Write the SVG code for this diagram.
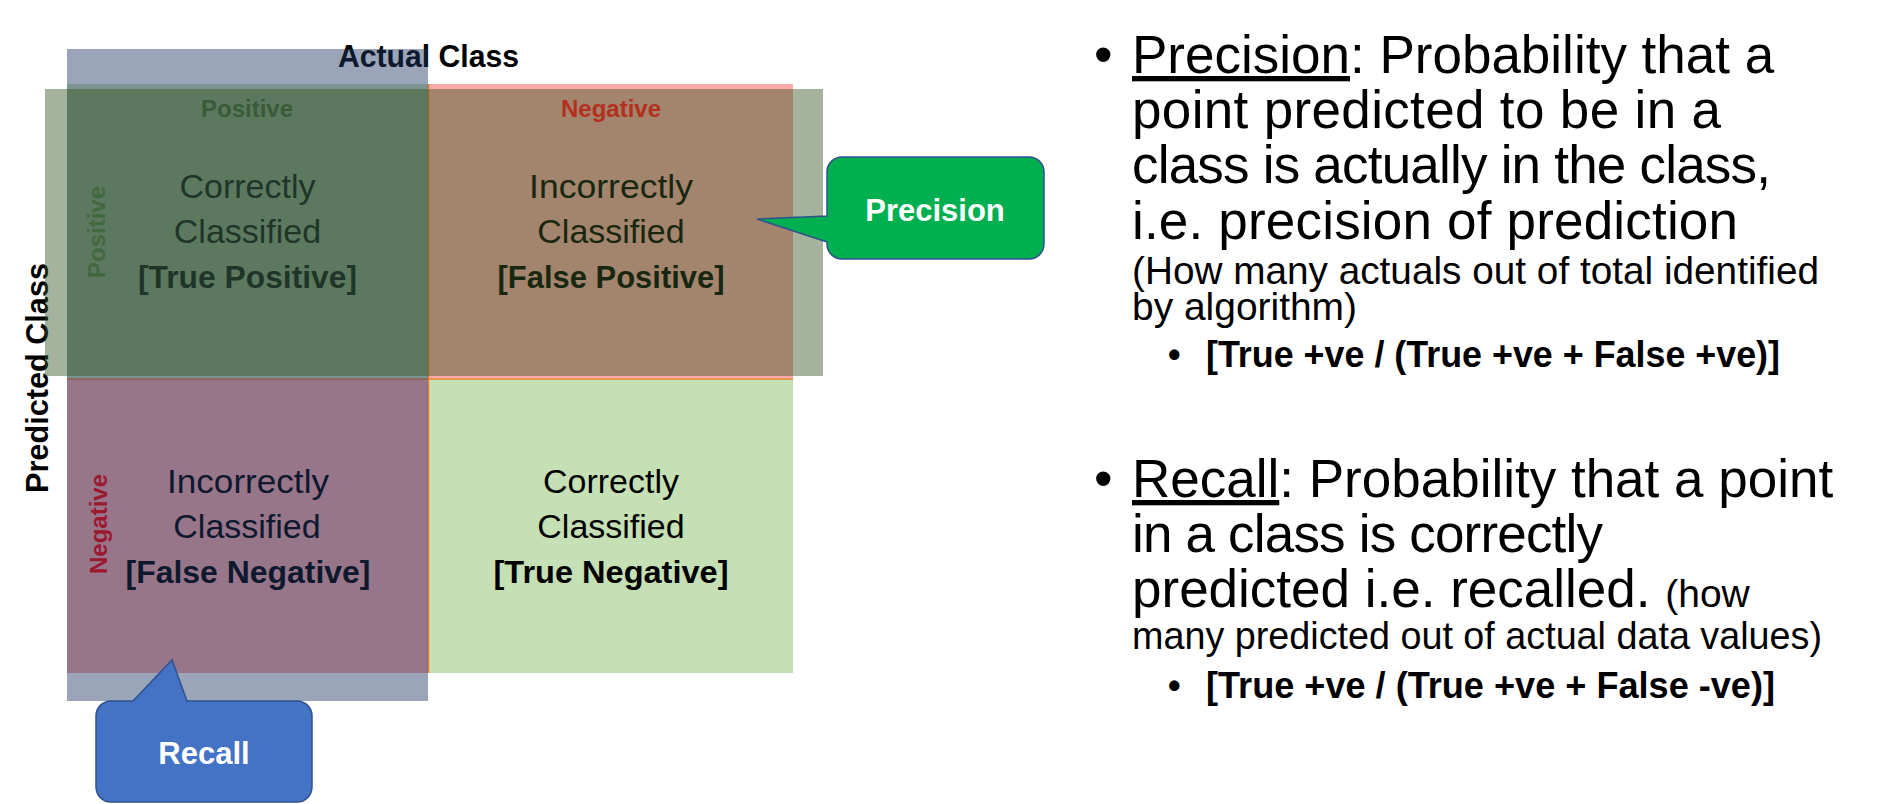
<svg xmlns="http://www.w3.org/2000/svg" width="1886" height="804" viewBox="0 0 1886 804">
<style>
  text { font-family: "Liberation Sans", Arial, sans-serif; }
  .cell { font-size: 34px; text-anchor: middle; fill: #000; }
  .cellb { font-size: 32px; font-weight: bold; text-anchor: middle; fill: #000; }
  .hdr { font-size: 24px; font-weight: bold; text-anchor: middle; }
  .axis { font-weight: bold; fill: #000; }
  .body { font-size: 53px; fill: #000; }
  .small { font-size: 39px; fill: #000; }
  .formula { font-size: 36px; font-weight: bold; fill: #000; }
  .callout-text { font-size: 31px; font-weight: bold; fill: #fff; text-anchor: middle; }
  .callout { stroke: #2F528F; stroke-width: 1.5; }
  .grid-line { stroke: #ED7D31; stroke-width: 1.5; fill: none; }
</style>
<rect width="1886" height="804" fill="#fff"/>

<g id="matrix">
  <g id="cell-tp"><rect x="67" y="84" width="361" height="294.5" fill="#C5E0B4"/></g>
  <g id="cell-fp"><rect x="428" y="84" width="365" height="294.5" fill="#FCA9AA"/></g>
  <g id="cell-fn"><rect x="67" y="378.5" width="361" height="294.5" fill="#FCA9AA"/></g>
  <g id="cell-tn"><rect x="428" y="378.5" width="365" height="294.5" fill="#C5E0B4"/></g>
  <line class="grid-line" x1="428.5" y1="84" x2="428.5" y2="673"/>
  <line class="grid-line" x1="67" y1="379" x2="793" y2="379"/>

  <g id="tp-text">
    <text class="cell" x="247.5" y="198">Correctly</text>
    <text class="cell" x="247.5" y="243">Classified</text>
    <text class="cellb" x="247.5" y="288" textLength="219" lengthAdjust="spacingAndGlyphs">[True Positive]</text>
  </g>
  <g id="fp-text">
    <text class="cell" x="611" y="198" textLength="164" lengthAdjust="spacingAndGlyphs">Incorrectly</text>
    <text class="cell" x="611" y="243">Classified</text>
    <text class="cellb" x="611" y="288" textLength="227" lengthAdjust="spacingAndGlyphs">[False Positive]</text>
  </g>
  <g id="fn-text">
    <text class="cell" x="248" y="493" textLength="162" lengthAdjust="spacingAndGlyphs">Incorrectly</text>
    <text class="cell" x="247" y="538">Classified</text>
    <text class="cellb" x="248" y="583" textLength="245" lengthAdjust="spacingAndGlyphs">[False Negative]</text>
  </g>
  <g id="tn-text">
    <text class="cell" x="611" y="493">Correctly</text>
    <text class="cell" x="611" y="538">Classified</text>
    <text class="cellb" x="611" y="583" textLength="235" lengthAdjust="spacingAndGlyphs">[True Negative]</text>
  </g>

  <g id="headers">
    <text class="hdr" x="247" y="117" fill="#548235">Positive</text>
    <text class="hdr" transform="translate(105,232) rotate(-90)" fill="#70AD47">Positive</text>
    <text class="hdr" transform="translate(107,524) rotate(-90)" fill="#FF0000" font-size="25">Negative</text>
  </g>

  <g id="actual-class">
    <text class="axis" x="338" y="67" font-size="32" textLength="181" lengthAdjust="spacingAndGlyphs">Actual Class</text>
  </g>
  <g id="predicted-class">
    <text class="axis" transform="translate(48,378) rotate(-90)" font-size="32" text-anchor="middle" textLength="230" lengthAdjust="spacingAndGlyphs">Predicted Class</text>
  </g>

  <g id="actual-positive-overlay">
    <rect x="67" y="49" width="361" height="652" fill="#1F3864" fill-opacity="0.45"/>
  </g>
  <g id="predicted-positive-overlay">
    <rect x="45" y="89" width="778" height="287" fill="#385723" fill-opacity="0.45"/>
  </g>
  <g id="negative-header">
    <text class="hdr" x="611" y="117" fill="#B52F1F" font-size="25">Negative</text>
  </g>
</g>

<g id="precision-callout">
  <path class="callout" fill="#00B050" d="M842,157 H1029 A15,15 0 0 1 1044,172 V244 A15,15 0 0 1 1029,259 H842 A15,15 0 0 1 827,244 V242 L757,219 L827,216 V172 A15,15 0 0 1 842,157 Z"/>
  <text class="callout-text" x="935" y="221">Precision</text>
</g>

<g id="recall-callout">
  <path class="callout" fill="#4472C4" d="M111,701 H133 L172,660 L187,701 H297 A15,15 0 0 1 312,716 V787 A15,15 0 0 1 297,802 H111 A15,15 0 0 1 96,787 V716 A15,15 0 0 1 111,701 Z"/>
  <text class="callout-text" x="204" y="764">Recall</text>
</g>

<g id="precision-text">
  <text class="body" x="1094" y="73">•</text>
  <text class="body" x="1132" y="73"><tspan text-decoration="underline">Precision</tspan>: Probability that a</text>
  <text class="body" x="1132" y="128" textLength="589" lengthAdjust="spacing">point predicted to be in a</text>
  <text class="body" x="1132" y="183" textLength="639" lengthAdjust="spacing">class is actually in the class,</text>
  <text class="body" x="1132" y="239" textLength="606" lengthAdjust="spacing">i.e. precision of prediction</text>
  <text class="small" x="1132" y="284" textLength="687" lengthAdjust="spacingAndGlyphs">(How many actuals out of total identified</text>
  <text class="small" x="1132" y="320" textLength="225" lengthAdjust="spacingAndGlyphs">by algorithm)</text>
  <text class="formula" x="1168" y="367">•</text>
  <text class="formula" x="1206" y="367" textLength="574" lengthAdjust="spacingAndGlyphs">[True +ve / (True +ve + False +ve)]</text>
</g>

<g id="recall-text">
  <text class="body" x="1094" y="497">•</text>
  <text class="body" x="1132" y="497"><tspan text-decoration="underline">Recall</tspan>: Probability that a point</text>
  <text class="body" x="1132" y="552" textLength="471" lengthAdjust="spacing">in a class is correctly</text>
  <text class="body" x="1132" y="607">predicted i.e. recalled. <tspan class="small">(how</tspan></text>
  <text class="small" x="1132" y="649" textLength="690" lengthAdjust="spacingAndGlyphs">many predicted out of actual data values)</text>
  <text class="formula" x="1168" y="698">•</text>
  <text class="formula" x="1206" y="698" textLength="569" lengthAdjust="spacingAndGlyphs">[True +ve / (True +ve + False -ve)]</text>
</g>
</svg>
